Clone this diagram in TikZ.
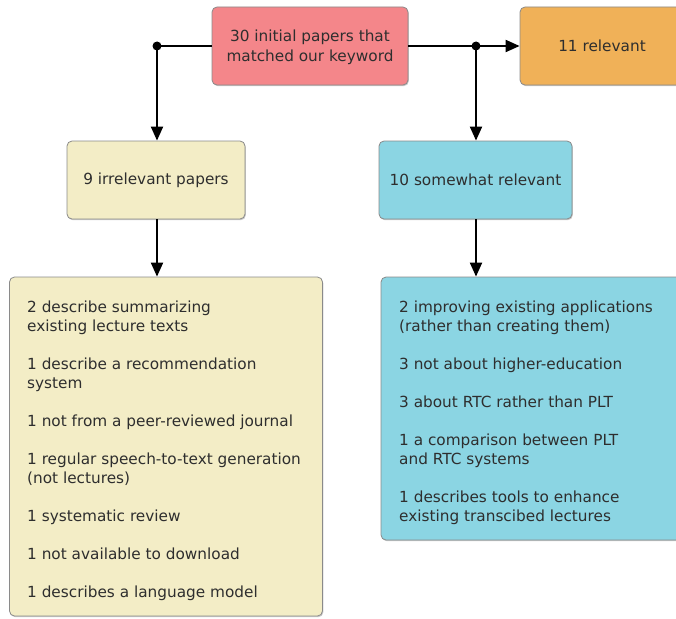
\documentclass[tikz,border=0pt]{standalone}
\usepackage{fontspec}
\setmainfont{DejaVu Sans}
\usetikzlibrary{arrows.meta,shadows}
\definecolor{redfill}{HTML}{F4868A}
\definecolor{orangefill}{HTML}{F0B158}
\definecolor{creamfill}{HTML}{F3EDC6}
\definecolor{bluefill}{HTML}{8BD5E3}
\definecolor{edgegray}{HTML}{8A8A8A}
\definecolor{txt}{HTML}{2E2E2E}
\tikzset{
  box/.style={draw=edgegray, line width=0.8pt, rounded corners=5pt, inner sep=0pt,
    drop shadow={shadow xshift=0.8pt, shadow yshift=-1.2pt, opacity=0.35, fill=black!60},
    text=txt, font=\fontsize{15.3}{19.5}\selectfont},
  boxtext/.style={text=txt, font=\fontsize{15.3}{19}\selectfont, align=left, inner sep=0pt, anchor=north west},
  link/.style={line width=2pt, black},
  tip/.style={-{Triangle[length=14pt,width=12pt]}},
  junction/.style={circle, fill=black, inner sep=0pt, minimum size=9pt}
}
\begin{document}
\begin{tikzpicture}[x=1pt,y=-1pt]
\useasboundingbox (0,0) rectangle (676,618);

% top row
\node[box, fill=redfill, minimum width=196pt, minimum height=78pt] (start) at (310,46) {};
\node[text=txt, font=\fontsize{15.3}{19.5}\selectfont, align=center, inner sep=0pt] (starttext) at (310,47.5)
  {30 initial papers that\\matched our keyword};
\node[box, fill=orangefill, minimum width=164pt, minimum height=78pt] (rel) at (602,46) {11 relevant};

% second row
\node[box, fill=creamfill, minimum width=178pt, minimum height=78pt] (irr) at (156,180) {9 irrelevant papers};
\node[box, fill=bluefill, minimum width=193pt, minimum height=78pt] (some) at (475.5,180) {10 somewhat relevant};

% detail boxes
\node[box, fill=creamfill, minimum width=313pt, minimum height=339pt] (irrlist) at (166,446.5) {};
\node[box, fill=bluefill, minimum width=309pt, minimum height=263pt] (somelist) at (535.5,408.5) {};

\node[boxtext] (irrtext) at (27,300.5) {2 describe summarizing\\existing lecture texts\\[19pt]
1 describe a recommendation\\system\\[19pt]
1 not from a peer-reviewed journal\\[19pt]
1 regular speech-to-text generation\\(not lectures)\\[19pt]
1 systematic review\\[19pt]
1 not available to download\\[19pt]
1 describes a language model};

\node[boxtext] (sometext) at (399,300.5) {2 improving existing applications\\(rather than creating them)\\[19pt]
3 not about higher-education\\[19pt]
3 about RTC rather than PLT\\[19pt]
1 a comparison between PLT\\and RTC systems\\[19pt]
1 describes tools to enhance\\existing transcibed lectures};

% junctions
\node[junction] (jl) at (157,46) {};
\node[junction] (jr) at (476,46) {};

% connectors
\draw[link] (start.west) -- (jl.center);
\draw[link, tip] (jl.center) -- (irr.north -| jl);
\draw[link] (start.east) -- (jr.center);
\draw[link, tip] (jr.center) -- (rel.west);
\draw[link, tip] (jr.center) -- (some.north -| jr);
\draw[link, tip] (irr.south -| jl) -- (irrlist.north -| jl);
\draw[link, tip] (some.south -| jr) -- (somelist.north -| jr);
\end{tikzpicture}
\end{document}
